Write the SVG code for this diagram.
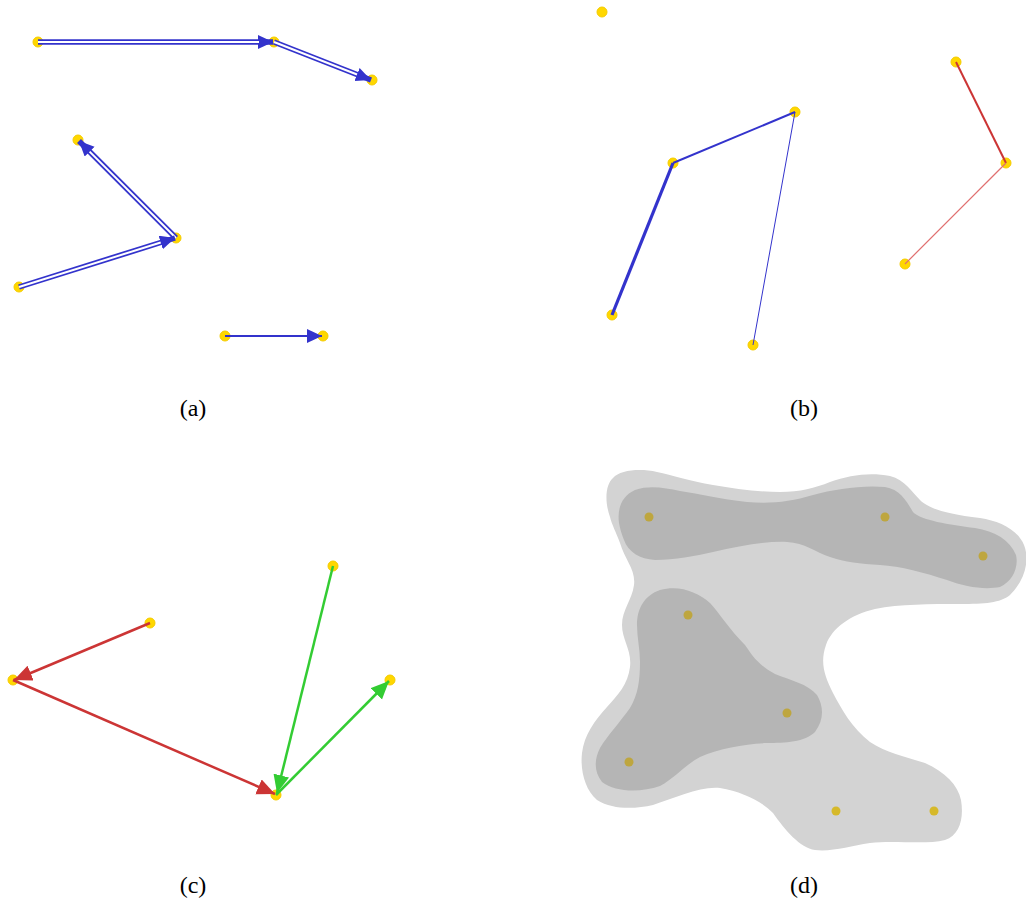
<svg xmlns="http://www.w3.org/2000/svg" width="1026" height="903" viewBox="0 0 1026 903">
<style>
.node{fill:#ffd700;stroke:#f5cc00;stroke-width:1}
.dn{fill:#bea63f}
.dl{fill:#d6b92a}
.blue{stroke:#3333cc;fill:none}
.dbl{stroke:#3333cc;stroke-width:5.5;fill:none}
.inner{stroke:#ffffff;stroke-width:2;fill:none}
.red{stroke:#cc3535;stroke-width:2.5;fill:none}
.green{stroke:#33cc33;stroke-width:2.5;fill:none}
.lbl{font-family:"Liberation Serif","DejaVu Serif",serif;font-size:24px;fill:#000;text-anchor:middle}
</style>
<defs>
<marker id="ab" markerUnits="userSpaceOnUse" markerWidth="16" markerHeight="15" refX="15" refY="7" orient="auto"><path d="M0,0 L15,7 L0,14 z" fill="#3333cc"/></marker>
<marker id="ar" markerUnits="userSpaceOnUse" markerWidth="19" markerHeight="17" refX="18" refY="8" orient="auto"><path d="M0,0 L18,8 L0,16 z" fill="#cc3535"/></marker>
<marker id="ag" markerUnits="userSpaceOnUse" markerWidth="19" markerHeight="17" refX="18" refY="8" orient="auto"><path d="M0,0 L18,8 L0,16 z" fill="#33cc33"/></marker>
</defs>
<rect width="1026" height="903" fill="#ffffff"/>

<!-- Panel (a) -->
<g id="panel-a-nodes">
<circle id="a1" class="node" cx="38" cy="42" r="5"/>
<circle id="a2" class="node" cx="274" cy="42" r="5"/>
<circle id="a3" class="node" cx="372" cy="80" r="5"/>
<circle id="a4" class="node" cx="78" cy="140" r="5"/>
<circle id="a5" class="node" cx="176" cy="238" r="5"/>
<circle id="a6" class="node" cx="19" cy="287" r="5"/>
<circle id="a7" class="node" cx="225" cy="336" r="5"/>
<circle id="a8" class="node" cx="323" cy="336" r="5"/>
</g>
<g id="panel-a-connectors">
<line class="dbl" x1="38" y1="42" x2="273" y2="42" marker-end="url(#ab)"/>
<line class="inner" x1="38" y1="42" x2="259" y2="42"/>
<line class="dbl" x1="274" y1="42" x2="371" y2="80" marker-end="url(#ab)"/>
<line class="inner" x1="274" y1="42" x2="357" y2="74.5"/>
<line class="dbl" x1="176" y1="238" x2="79" y2="141" marker-end="url(#ab)"/>
<line class="inner" x1="176" y1="238" x2="89.6" y2="151.6"/>
<line class="dbl" x1="19" y1="287" x2="175" y2="238" marker-end="url(#ab)"/>
<line class="inner" x1="19" y1="287" x2="160.7" y2="242.5"/>
<line class="blue" stroke-width="2.2" x1="225" y1="336" x2="322" y2="336" marker-end="url(#ab)"/>
</g>
<text class="lbl" x="193" y="416">(a)</text>

<!-- Panel (b) -->
<g id="panel-b-nodes">
<circle id="b1" class="node" cx="602" cy="12" r="5"/>
<circle id="b2" class="node" cx="673" cy="163" r="5"/>
<circle id="b3" class="node" cx="795" cy="112" r="5"/>
<circle id="b4" class="node" cx="612" cy="315" r="5"/>
<circle id="b5" class="node" cx="753" cy="345" r="5"/>
<circle id="b6" class="node" cx="956" cy="62" r="5"/>
<circle id="b7" class="node" cx="1006" cy="163" r="5"/>
<circle id="b8" class="node" cx="905" cy="264" r="5"/>
</g>
<g id="panel-b-connectors">
<line class="blue" stroke-width="3.2" x1="612" y1="315" x2="673" y2="163"/>
<line class="blue" stroke-width="2" x1="673" y1="163" x2="795" y2="112"/>
<line class="blue" stroke-width="1" x1="795" y1="112" x2="753" y2="345"/>
<line stroke="#cc3535" stroke-width="2" x1="956" y1="62" x2="1006" y2="163"/>
<line stroke="#e07070" stroke-width="1.2" x1="1006" y1="163" x2="905" y2="264"/>
</g>
<text class="lbl" x="804" y="416">(b)</text>

<!-- Panel (c) -->
<g id="panel-c-nodes">
<circle id="c1" class="node" cx="150" cy="623" r="5"/>
<circle id="c2" class="node" cx="13" cy="680" r="5"/>
<circle id="c3" class="node" cx="276" cy="795" r="5"/>
<circle id="c4" class="node" cx="333" cy="566" r="5"/>
<circle id="c5" class="node" cx="390" cy="680" r="5"/>
</g>
<g id="panel-c-connectors">
<line class="red" x1="150" y1="623" x2="14" y2="680" marker-end="url(#ar)"/>
<line class="red" x1="13" y1="680" x2="275" y2="794" marker-end="url(#ar)"/>
<line class="green" x1="333" y1="566" x2="277" y2="793" marker-end="url(#ag)"/>
<line class="green" x1="276" y1="795" x2="389" y2="681" marker-end="url(#ag)"/>
</g>
<text class="lbl" x="193" y="893">(c)</text>

<!-- Panel (d) -->
<g id="panel-d">
<path fill="#d3d3d3" d="M610,517 C604,500 606,484 613,478 C620,470 640,468 657,472 C672,475 690,481 713,485 C735,489 760,492 780,492 C800,492 815,488 830,482 C850,475 870,472 890,476 C905,480 912,492 920,500 C928,508 945,514 980,518 C1000,521 1018,530 1024,545 C1030,560 1025,580 1010,595 C1000,603 985,604 960,604 C930,604 900,604 875,609 C850,615 832,628 826,645 C820,662 824,675 833,693 C842,710 852,728 870,742 C885,752 905,757 925,763 C945,772 958,785 961,800 C964,818 960,835 945,840 C925,845 895,840 870,843 C850,846 832,852 815,850 C800,848 785,830 773,813 C760,800 742,792 720,788 C700,786 675,798 653,805 C635,809 613,810 597,800 C585,790 580,770 582,753 C584,735 595,720 607,707 C618,695 628,684 630,667 C632,650 622,640 622,625 C622,610 632,600 634,585 C636,570 625,560 620,543 C616,532 612,525 610,517 Z"/>
<path fill="#b5b5b5" d="M619,523 C617,508 622,496 635,490 C650,485 665,488 680,491 C700,494 720,499 747,502 C770,504 790,502 813,495 C835,489 862,485 885,487 C900,489 907,502 913,512 C920,520 950,525 975,528 C995,531 1010,540 1016,555 C1019,568 1012,582 1000,587 C985,590 965,587 947,580 C925,573 900,566 880,565 C860,564 845,562 830,557 C815,552 805,543 787,542 C765,541 740,546 713,552 C695,556 675,560 655,560 C640,559 628,552 624,540 C621,533 620,528 619,523 Z"/>
<path fill="#b5b5b5" d="M637,625 C637,610 643,596 660,590 C680,585 697,592 710,603 C720,614 730,630 745,645 C752,655 758,665 775,674 C790,680 808,684 817,695 C824,707 824,720 815,732 C805,742 785,743 767,743 C745,744 720,748 700,757 C685,765 675,778 660,786 C640,793 615,792 602,782 C594,772 594,760 600,748 C608,735 620,722 630,708 C638,695 640,680 640,662 C640,650 637,637 637,625 Z"/>
<circle class="dn" cx="649" cy="517" r="4.5"/>
<circle class="dn" cx="885" cy="517" r="4.5"/>
<circle class="dn" cx="983" cy="556" r="4.5"/>
<circle class="dn" cx="688" cy="615" r="4.5"/>
<circle class="dn" cx="787" cy="713" r="4.5"/>
<circle class="dn" cx="629" cy="762" r="4.5"/>
<circle class="dl" cx="836" cy="811" r="4.5"/>
<circle class="dl" cx="934" cy="811" r="4.5"/>
</g>
<text class="lbl" x="804" y="893">(d)</text>
</svg>
